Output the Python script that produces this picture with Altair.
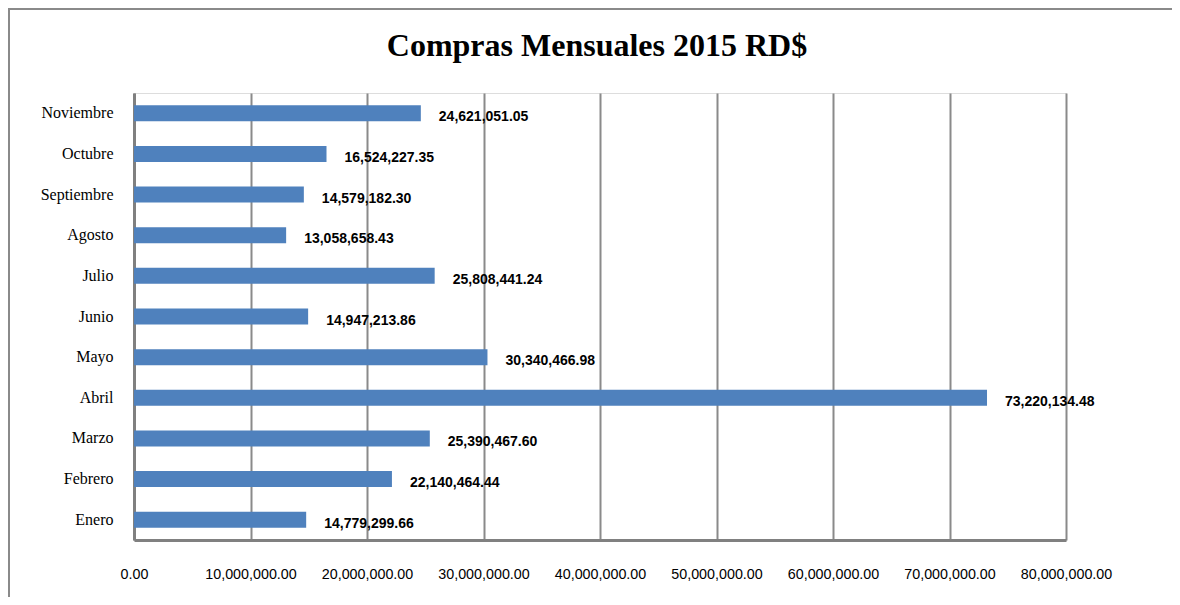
import altair as alt
import pandas as pd

months = ["Enero", "Febrero", "Marzo", "Abril", "Mayo", "Junio", "Julio",
          "Agosto", "Septiembre", "Octubre", "Noviembre"]
values = [14779299.66, 22140464.44, 25390467.60, 73220134.48, 30340466.98,
          14947213.86, 25808441.24, 13058658.43, 14579182.30, 16524227.35,
          24621051.05]
x_ticks = [0, 10000000, 20000000, 30000000, 40000000, 50000000, 60000000,
           70000000, 80000000]
title_text = "Compras Mensuales 2015 RD$"

df = pd.DataFrame({"mes": months, "monto": values})
order_top_down = list(reversed(months))

x_enc = alt.X("monto:Q",
              scale=alt.Scale(domain=[0, 80000000], nice=False, zero=True),
              axis=alt.Axis(values=x_ticks, format=",.2f", title=None,
                            ticks=False, labelPadding=27, labelFont="Liberation Sans",
                            labelFontSize=14.3, labelColor="#000000",
                            grid=True, gridColor="#8a8a8a", gridWidth=2,
                            domainColor="#808080", domainWidth=3,
                            labelFlush=False))
y_enc = alt.Y("mes:N", sort=order_top_down,
              scale=alt.Scale(paddingInner=0, paddingOuter=0),
              axis=alt.Axis(title=None, ticks=False, labelPadding=21,
                            labelFont="Liberation Serif", labelFontSize=16,
                            labelColor="#000000", domainColor="#808080",
                            domainWidth=3, grid=False))

bars = alt.Chart(df).mark_bar(size=16, color="#4F81BD").encode(x=x_enc, y=y_enc)

labels = alt.Chart(df).mark_text(align="left", baseline="middle", dx=18, dy=4,
                                 font="Liberation Sans", fontSize=14,
                                 fontWeight="bold", color="#000000").encode(
    x="monto:Q", y=alt.Y("mes:N", sort=order_top_down),
    text=alt.Text("monto:Q", format=",.2f"))

title_df = pd.DataFrame({"t": [title_text]})
title = alt.Chart(title_df).mark_text(align="center", baseline="alphabetic",
                                      font="Liberation Serif", fontSize=32,
                                      fontWeight="bold", color="#000000").encode(
    x=alt.value(463), y=alt.value(-37), text="t:N")

frame_top = alt.Chart(df).mark_rule(color="#8a8a8a", strokeWidth=2).encode(
    x=alt.value(-126), x2=alt.value(1100), y=alt.value(-84))
frame_left = alt.Chart(df).mark_rule(color="#8a8a8a", strokeWidth=2).encode(
    x=alt.value(-125), y=alt.value(-85), y2=alt.value(520))

chart = alt.layer(bars, labels, title, frame_top, frame_left).properties(
    width=932, height=447,
    autosize=alt.AutoSizeParams(type="none"),
    padding={"left": 126, "top": 85, "right": 106, "bottom": 57},
).configure_view(stroke=None).configure(background="white")

chart.save("out.html", embed_options={"renderer": "svg", "actions": False})
